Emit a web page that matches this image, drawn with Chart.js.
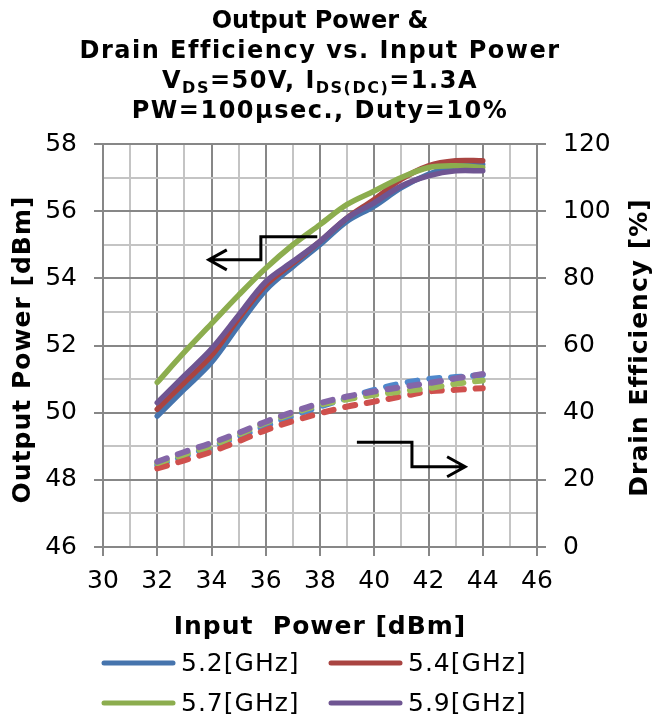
<!DOCTYPE html>
<html>
<head>
<meta charset="utf-8">
<script src="https://cdn.jsdelivr.net/npm/chart.js@4.4.1/dist/chart.umd.min.js"></script>
<style>
  html, body { margin: 0; padding: 0; background: #fff; }
</style>
</head>
<body>
<canvas id="chart" width="652" height="718"></canvas>
<script>
// Input power points [dBm]
var inputPower = [32, 33, 34, 35, 36, 37, 38, 39, 40, 41, 42, 43, 44];
var freqLabels = ["5.2[GHz]", "5.4[GHz]", "5.7[GHz]", "5.9[GHz]"];

// Output power [dBm] (left axis)
var pout52 = [49.9, 50.7, 51.5, 52.6, 53.65, 54.35, 55.0, 55.7, 56.15, 56.7, 57.1, 57.35, 57.4];
var pout54 = [50.1, 50.9, 51.7, 52.8, 53.8, 54.45, 55.1, 55.8, 56.35, 56.95, 57.35, 57.5, 57.5];
var pout57 = [50.9, 51.8, 52.65, 53.5, 54.3, 55.0, 55.6, 56.2, 56.6, 57.0, 57.3, 57.35, 57.3];
var pout59 = [50.3, 51.1, 51.9, 52.9, 53.9, 54.5, 55.1, 55.8, 56.25, 56.75, 57.05, 57.2, 57.2];

// Drain efficiency [%] (right axis)
var eff52 = [24.3, 27.0, 29.8, 32.8, 36.0, 39.0, 41.8, 44.3, 46.8, 48.7, 50.0, 50.6, 51.2];
var eff54 = [23.4, 25.8, 28.4, 31.5, 34.8, 37.5, 39.8, 41.8, 43.3, 44.8, 46.3, 46.8, 47.3];
var eff57 = [25.0, 27.6, 30.2, 33.5, 37.0, 39.8, 42.3, 44.0, 45.3, 46.3, 47.3, 48.6, 49.6];
var eff59 = [25.4, 28.3, 31.0, 34.0, 37.3, 40.2, 42.8, 44.8, 46.3, 47.6, 48.8, 50.2, 51.5];

var solidColors = ["#4674AD", "#A94441", "#8CAD4E", "#6F5592"];
var dashColors = ["#4F88CC", "#CF504D", "#9BBB59", "#8466A8"];

var FONT = "'DejaVu Sans', Verdana, sans-serif";
var MAJOR = "#878787", MINOR = "#c4c4c4";

function pts(ys) {
    return inputPower.map(function (x, i) { return { x: x, y: ys[i] }; });
}

var poutSeries = [pout52, pout54, pout57, pout59];
var effSeries = [eff52, eff54, eff57, eff59];
var drawOrder = [4, 3, 2, 1]; // purple on top, blue underneath

var datasets = [];
poutSeries.forEach(function (s, i) {
    datasets.push({
        label: freqLabels[i],
        data: pts(s),
        yAxisID: "y",
        borderColor: solidColors[i],
        borderWidth: 5.5,
        borderCapStyle: "round",
        pointRadius: 0,
        tension: 0.35,
        order: drawOrder[i]
    });
});
effSeries.forEach(function (s, i) {
    datasets.push({
        label: freqLabels[i] + " eff",
        data: pts(s),
        yAxisID: "y2",
        borderColor: dashColors[i],
        borderWidth: 6,
        borderDash: [10, 12],
        borderCapStyle: "round",
        pointRadius: 0,
        tension: 0.35,
        order: drawOrder[i] + 4
    });
});

// arrows pointing to the axis each group belongs to (in data units)
var arrowLeft = { axis: "y", pts: [[37.9, 55.24], [35.82, 55.24], [35.82, 54.55], [33.9, 54.55]] };
var arrowRight = { axis: "y2", pts: [[39.36, 31.2], [41.39, 31.2], [41.39, 23.9], [43.35, 23.9]] };

function drawArrow(chart, a) {
    var ctx = chart.ctx, xs = chart.scales.x, ys = chart.scales[a.axis];
    var p = a.pts.map(function (q) { return [xs.getPixelForValue(q[0]), ys.getPixelForValue(q[1])]; });
    ctx.save();
    ctx.strokeStyle = "#000";
    ctx.lineWidth = 3;
    ctx.beginPath();
    ctx.moveTo(p[0][0], p[0][1]);
    for (var i = 1; i < p.length; i++) ctx.lineTo(p[i][0], p[i][1]);
    var end = p[p.length - 1], prev = p[p.length - 2];
    var dir = end[0] > prev[0] ? 1 : -1;
    ctx.moveTo(end[0] - dir * 18, end[1] - 10);
    ctx.lineTo(end[0], end[1]);
    ctx.lineTo(end[0] - dir * 18, end[1] + 10);
    ctx.stroke();
    ctx.restore();
}

function drawRuns(ctx, runs, cx, y) {
    var total = 0;
    runs.forEach(function (r) { ctx.font = r.font; r.w = ctx.measureText(r.t).width; total += r.w; });
    var x = cx - total / 2;
    runs.forEach(function (r) {
        ctx.font = r.font;
        ctx.fillText(r.t, x, y + (r.dy || 0));
        x += r.w;
    });
}

function drawRotated(ctx, text, x, y) {
    ctx.save();
    ctx.translate(x, y);
    ctx.rotate(-Math.PI / 2);
    ctx.textAlign = "center";
    ctx.textBaseline = "middle";
    ctx.fillText(text, 0, 0);
    ctx.restore();
}

var decor = {
    id: "decor",
    afterDraw: function (chart) {
        var ctx = chart.ctx, ca = chart.chartArea;
        var cx = (ca.left + ca.right) / 2, cy = (ca.top + ca.bottom) / 2;
        ctx.save();
        ctx.fillStyle = "#000";
        ctx.textBaseline = "alphabetic";
        ctx.textAlign = "left";
        var big = "bold 24px " + FONT, small = "bold 16px " + FONT;
        ctx.letterSpacing = "0px";
        drawRuns(ctx, [{ t: "Output Power &", font: big }], cx, 28);
        ctx.letterSpacing = "1.5px";
        drawRuns(ctx, [{ t: "Drain Efficiency vs. Input Power", font: big }], cx, 58);
        drawRuns(ctx, [
            { t: "V", font: big }, { t: "DS", font: small, dy: 5 },
            { t: "=50V, I", font: big }, { t: "DS(DC)", font: small, dy: 5 },
            { t: "=1.3A", font: big }
        ], cx, 88);
        drawRuns(ctx, [{ t: "PW=100\u03bcsec., Duty=10%", font: big }], cx, 118);

        // axis titles
        ctx.letterSpacing = "1px";
        ctx.font = "bold 25px " + FONT;
        drawRotated(ctx, "Output Power [dBm]", 23, cy + 4);
        drawRotated(ctx, "Drain Efficiency [%]", 640, cy + 2);
        ctx.textAlign = "center";
        ctx.textBaseline = "middle";
        ctx.fillText("Input  Power [dBm]", cx, 627);

        drawArrow(chart, arrowLeft);
        drawArrow(chart, arrowRight);

        // legend, two columns
        ctx.font = "25px " + FONT;
        ctx.textAlign = "left";
        ctx.textBaseline = "middle";
        ctx.lineCap = "round";
        ctx.lineWidth = 5;
        var colX = [104, 331], rowY = [663, 703];
        freqLabels.forEach(function (lab, i) {
            var x0 = colX[i % 2], y0 = rowY[Math.floor(i / 2)];
            ctx.strokeStyle = solidColors[i];
            ctx.beginPath();
            ctx.moveTo(x0, y0);
            ctx.lineTo(x0 + 69, y0);
            ctx.stroke();
            ctx.fillText(lab, x0 + 77, y0 + 1);
        });
        ctx.restore();
    }
};

function gridColor(c) {
    return c.tick && c.tick.value % 2 === 0 ? MAJOR : MINOR;
}
function tickColor(c) {
    return c.tick && c.tick.value % 2 === 0 ? MAJOR : "rgba(0,0,0,0)";
}
function evenLabel(v) {
    return v % 2 === 0 ? String(v) : "";
}

new Chart(document.getElementById("chart").getContext("2d"), {
    type: "line",
    data: { datasets: datasets },
    plugins: [decor],
    options: {
        responsive: false,
        animation: false,
        events: [],
        layout: { padding: { top: 144, left: 0, right: 0, bottom: 78 } },
        plugins: { legend: { display: false }, title: { display: false }, tooltip: { enabled: false } },
        scales: {
            x: {
                type: "linear",
                min: 30, max: 46,
                afterFit: function (s) { s.height = 93; },
                ticks: { stepSize: 1, autoSkip: false, maxRotation: 0, maxTicksLimit: 100,
                    callback: evenLabel, color: "#000", padding: 10, font: { family: FONT, size: 25 } },
                grid: { color: gridColor, tickColor: tickColor, lineWidth: 2, tickLength: 9 },
                border: { color: MAJOR, width: 2 }
            },
            y: {
                position: "left",
                min: 46, max: 58,
                afterFit: function (s) { s.width = 103; },
                ticks: { stepSize: 1, autoSkip: false, maxTicksLimit: 100,
                    callback: evenLabel, color: "#000", padding: 17, font: { family: FONT, size: 25 } },
                grid: { color: gridColor, tickColor: tickColor, lineWidth: 2, tickLength: 9 },
                border: { color: MAJOR, width: 2 }
            },
            y2: {
                position: "right",
                min: 0, max: 120,
                afterFit: function (s) { s.width = 115; },
                ticks: { stepSize: 20, color: "#000", padding: 17, font: { family: FONT, size: 25 } },
                grid: { drawOnChartArea: false, color: MAJOR, tickColor: MAJOR, lineWidth: 2, tickLength: 9 },
                border: { color: MAJOR, width: 2 }
            }
        }
    }
});
</script>
</body>
</html>
